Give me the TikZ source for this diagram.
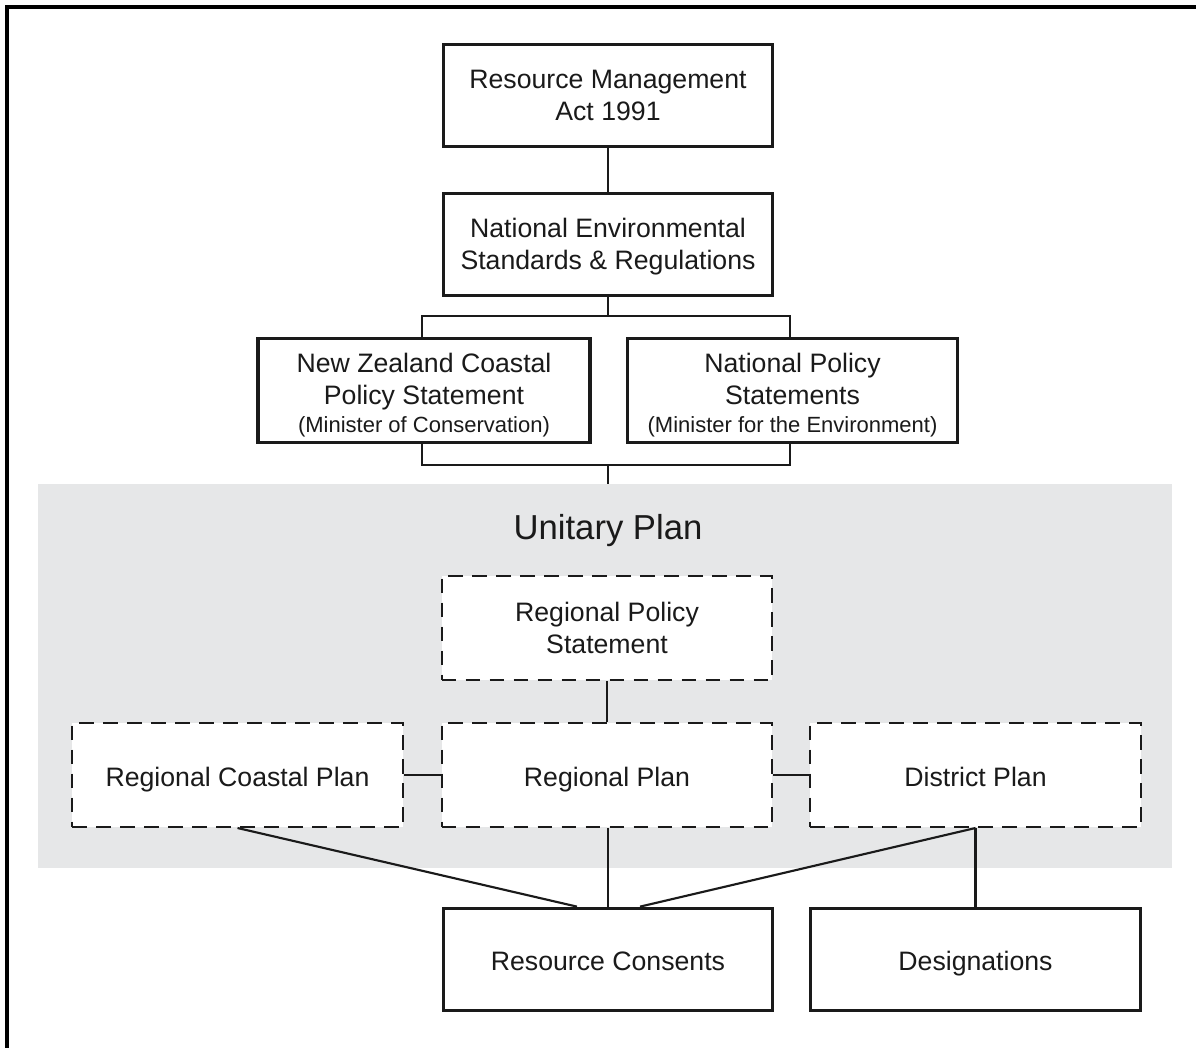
\documentclass[tikz,border=0pt]{standalone}
\usepackage{fontspec}
\setmainfont{Liberation Sans}
\definecolor{planbg}{HTML}{E6E7E8}
\definecolor{ink}{HTML}{1A1A1A}
\newcommand\mytopstrut{\rule{0pt}{21pt}}
\newcommand\mybotstrut{\rule[-4.5pt]{0pt}{4.5pt}}
\newcommand\mytallstrut{\rule{0pt}{23pt}}
\newcommand\mytwostrut{\rule{0pt}{18pt}}
\begin{document}
\begin{tikzpicture}[x=0.75pt,y=-0.75pt,
  solidbox/.style={draw=ink,line width=2.3pt,fill=white,align=center,text=ink,
    minimum width=247pt,minimum height=77pt,inner sep=0pt,
    font=\fontsize{20}{24}\selectfont,
    execute at begin node=\mytopstrut,execute at end node=\mybotstrut},
  dashbox/.style={draw=ink,line width=1.5pt,dash pattern=on 11pt off 7pt,fill=white,align=center,text=ink,
    minimum width=248pt,minimum height=78pt,inner sep=0pt,
    font=\fontsize{20}{24}\selectfont,
    execute at begin node=\mytopstrut,execute at end node=\mybotstrut},
  link/.style={draw=ink,line width=1.6pt}]
\useasboundingbox (0,0) rectangle (1196,1048);
\fill[white] (0,0) rectangle (1196,1048);
% frame
\draw[line width=3pt,black] (7,1048) -- (7,7) -- (1196,7);
% unitary plan background
\fill[planbg] (38,484) rectangle (1172,868);
\node[text=ink,font=\fontsize{26}{30}\selectfont] (up) at (608,531) {Unitary Plan};

\node[solidbox] (rma) at (608,95.5) {\mytwostrut Resource Management\\Act 1991};
\node[solidbox] (nes) at (608,244.5) {\mytwostrut National Environmental\\Standards \& Regulations};
\node[solidbox,minimum width=249pt,minimum height=78pt] (nzc) at (424,390.5) {\mytallstrut New Zealand Coastal\\Policy Statement\\[-3pt]{\fontsize{16.5}{20}\selectfont (Minister of Conservation)}};
\node[solidbox,minimum width=248pt,minimum height=78pt] (nps) at (792.5,390.5) {\mytallstrut National Policy\\Statements\\[-3pt]{\fontsize{16.5}{20}\selectfont (Minister for the Environment)}};

\node[dashbox] (rps) at (607,628) {\mytwostrut Regional Policy\\Statement};
\node[dashbox] (rcp) at (237.5,775) {Regional Coastal Plan};
\node[dashbox] (rp) at (607,775) {Regional Plan};
\node[dashbox] (dp) at (975.5,775) {District Plan};

\node[solidbox] (rc) at (608,959.5) {Resource Consents};
\node[solidbox,minimum width=248pt] (des) at (975.5,959.5) {Designations};

% connectors
\draw[link] (rma.south) -- (nes.north);
\coordinate (j1) at (608,316);
\coordinate (j2) at (608,465);
\coordinate (j3) at (608,484);
\draw[link] (nes.south) -- (j1);
\draw[link] (nzc.north -| 422,0) |- (j1) -| (nps.north -| 790,0);
\draw[link] (nzc.south -| 422,0) |- (j2) -| (nps.south -| 790,0);
\draw[link] (j2) -- (j3);
\draw[link] (rps.south) -- (rp.north);
\draw[link] (rcp.east) -- (rp.west);
\draw[link] (rp.east) -- (dp.west);
\draw[link] (rcp.south) -- (rc.north -| 577,0);
\draw[link] (rp.south -| 608,0) -- (rc.north);
\draw[link] (dp.south) -- (rc.north -| 640,0);
\draw[link] (dp.south) -- (des.north);
\end{tikzpicture}
\end{document}
